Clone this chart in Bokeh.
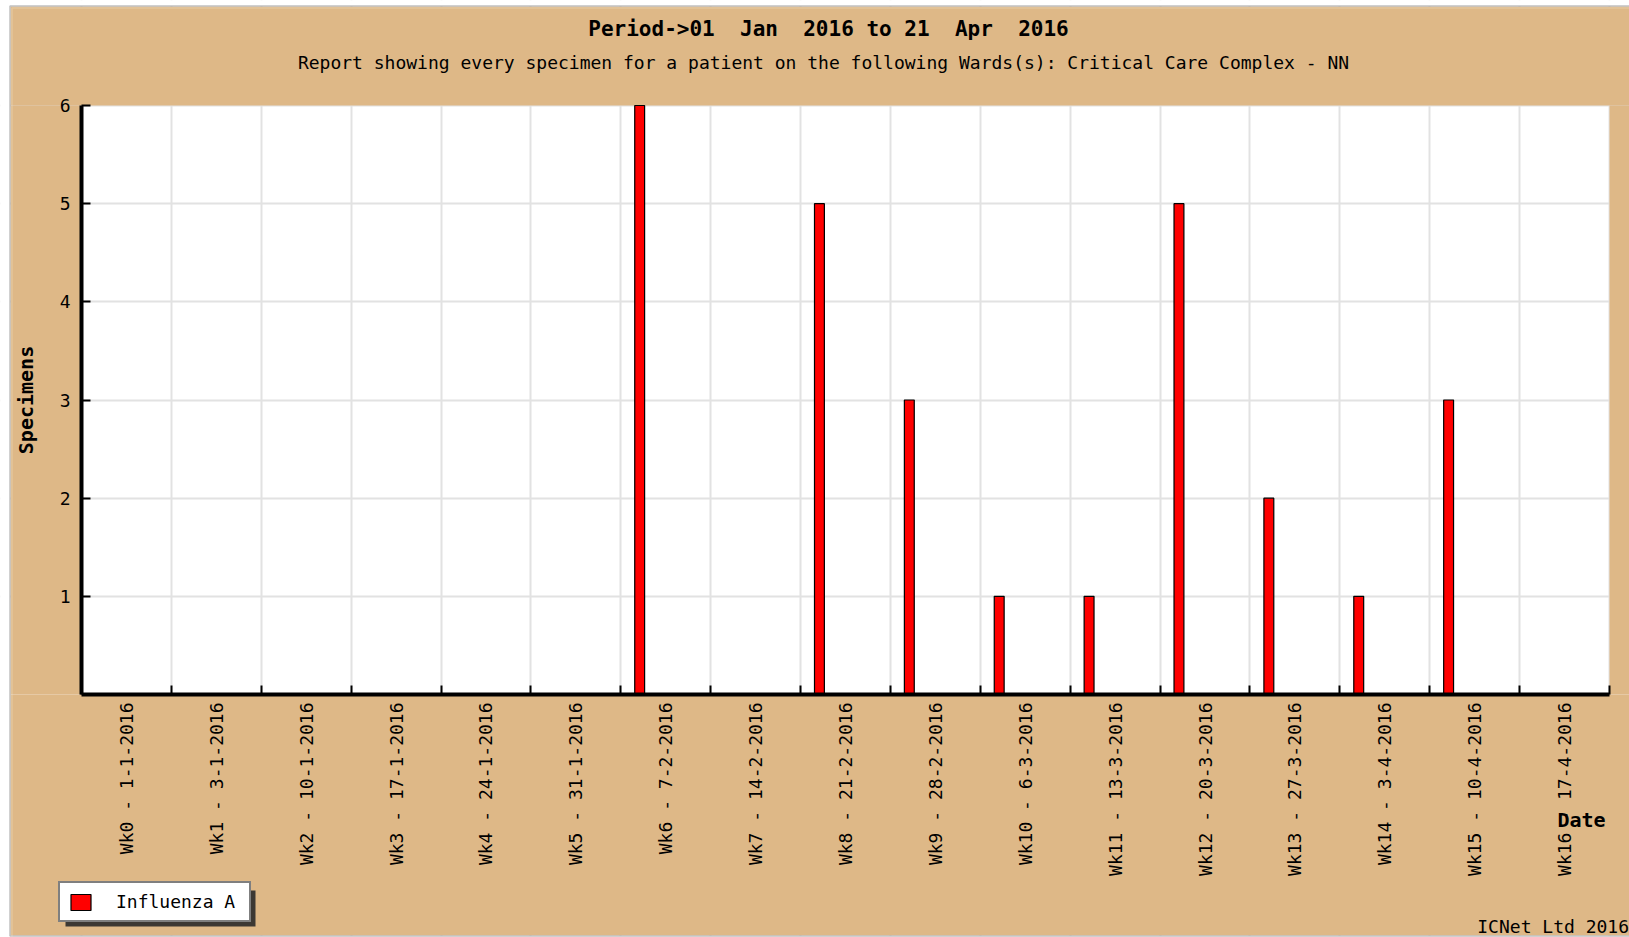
import math
from bokeh.plotting import figure
from bokeh.models import (ColumnDataSource, Range1d, FixedTicker, LinearAxis, Grid, Label,
                          Legend, LegendItem, BoxAnnotation)
from bokeh.embed import file_html
from bokeh.resources import INLINE

# ---- data -------------------------------------------------------------
week_labels = [
    "Wk0 - 1-1-2016", "Wk1 - 3-1-2016", "Wk2 - 10-1-2016", "Wk3 - 17-1-2016",
    "Wk4 - 24-1-2016", "Wk5 - 31-1-2016", "Wk6 - 7-2-2016", "Wk7 - 14-2-2016",
    "Wk8 - 21-2-2016", "Wk9 - 28-2-2016", "Wk10 - 6-3-2016", "Wk11 - 13-3-2016",
    "Wk12 - 20-3-2016", "Wk13 - 27-3-2016", "Wk14 - 3-4-2016", "Wk15 - 10-4-2016",
    "Wk16 - 17-4-2016",
]
influenza_a = [0, 0, 0, 0, 0, 0, 6, 0, 5, 3, 1, 1, 5, 2, 1, 3, 0]
y_ticks = [1, 2, 3, 4, 5, 6]
y_max = 6
series_name = "Influenza A"
title_text = "Period->01\u00a0 Jan\u00a0 2016 to 21\u00a0 Apr\u00a0 2016"
subtitle_text = ("Report showing every specimen for a patient on the following "
                 "Wards(s): Critical Care Complex - NN")
y_label = "Specimens"
x_label = "Date"
credit = "ICNet Ltd 2016"

# ---- layout / styles ----------------------------------------------------
W, H = 1629, 937
PLOT_L, PLOT_R, PLOT_T, PLOT_B = 81, 1609, 105, 694   # white plot area (px)
MONO = "DejaVu Sans Mono"
TAN = "#DEB887"
bar_offset = -0.29     # bar sits left of the category centre
bar_width = 0.11

n = len(week_labels)
idx = list(range(n))
x_lo, x_hi = -0.5, n - 0.5
px_x = (PLOT_R - PLOT_L) / (x_hi - x_lo)
px_y = (PLOT_B - PLOT_T) / y_max
x_range = Range1d(x_lo - PLOT_L / px_x, x_hi + (W - PLOT_R) / px_x)
y_range = Range1d(-(H - PLOT_B) / px_y, y_max + PLOT_T / px_y)

src = ColumnDataSource(dict(x=[i + bar_offset for i in idx], top=influenza_a,
                            label=week_labels))

p = figure(width=W, height=H, output_backend="svg", toolbar_location=None,
           x_range=x_range, y_range=y_range, x_axis_type=None, y_axis_type=None,
           min_border=0, min_border_left=0, min_border_right=0,
           min_border_top=0, min_border_bottom=0)
p.title.visible = False
p.border_fill_color = "white"
p.background_fill_color = "white"
p.outline_line_color = None

# grid lines
boundaries = [i - 0.5 for i in range(n + 1)]
for dim, ticks in ((0, boundaries), (1, y_ticks)):
    g = Grid(dimension=dim, ticker=FixedTicker(ticks=ticks),
             grid_line_color="#e2e2e2", grid_line_width=2)
    p.add_layout(g)

# tan surround of the white plot area (covers grid outside it)
S = "screen"
tan_boxes = [
    dict(left=10, right=W, top=H - 6, bottom=y_max,
         left_units=S, right_units=S, top_units=S, bottom_units="data"),
    dict(left=10, right=W, top=0, bottom=2,
         left_units=S, right_units=S, top_units="data", bottom_units=S),
    dict(left=10, right=x_lo, top=y_max, bottom=0,
         left_units=S, right_units="data", top_units="data", bottom_units="data"),
    dict(left=x_hi, right=W, top=y_max, bottom=0,
         left_units="data", right_units=S, top_units="data", bottom_units="data"),
]
for b in tan_boxes:
    p.add_layout(BoxAnnotation(level="underlay", fill_color=TAN, fill_alpha=1.0,
                               line_color=None, **b))
# white page strips outside the picture's frame
white_boxes = [
    dict(left=0, right=10, top=H, bottom=0),
    dict(left=0, right=W, top=H, bottom=H - 6),
    dict(left=0, right=W, top=2, bottom=0),
]
for b in white_boxes:
    p.add_layout(BoxAnnotation(level="underlay", fill_color="white", fill_alpha=1.0,
                               line_color=None, left_units=S, right_units=S,
                               top_units=S, bottom_units=S, **b))

# outer frame line of the picture (dark line with a light inner line)
p.add_layout(BoxAnnotation(left=9.5, right=W + 5, top=H - 5.5, bottom=1.5,
                           left_units=S, right_units=S, top_units=S, bottom_units=S,
                           fill_alpha=0, line_color="#333333", line_width=1.5))
p.add_layout(BoxAnnotation(left=11.5, right=W + 5, top=H - 7.5, bottom=-5,
                           left_units=S, right_units=S, top_units=S, bottom_units=S,
                           fill_alpha=0, line_color="#f2e4cc", line_width=1.5))

# bars
bars = p.vbar(x="x", top="top", width=bar_width, source=src, fill_color="#ff0000",
              line_color="black", line_width=1.2)

# x axis: labels at category centres, small inward ticks at boundaries
xax = LinearAxis(ticker=FixedTicker(ticks=idx, minor_ticks=boundaries),
                 fixed_location=0, bounds=(x_lo, x_hi))
xax.major_label_overrides = {i: lab for i, lab in zip(idx, week_labels)}
xax.major_label_orientation = math.pi / 2
xax.major_label_text_font = MONO
xax.major_label_text_font_size = "18px"
xax.major_label_text_color = "black"
xax.major_label_standoff = 8
xax.major_tick_in = 0
xax.major_tick_out = 0
xax.minor_tick_in = 9
xax.minor_tick_out = 0
xax.minor_tick_line_color = "black"
xax.minor_tick_line_width = 2
xax.axis_line_color = "black"
xax.axis_line_width = 4
p.add_layout(xax, "below")

yax = LinearAxis(ticker=FixedTicker(ticks=y_ticks), fixed_location=x_lo,
                 bounds=(0, y_max))
yax.major_label_text_font = MONO
yax.major_label_text_font_size = "18px"
yax.major_label_text_color = "black"
yax.major_label_standoff = 11
yax.major_tick_in = 9
yax.major_tick_out = 0
yax.major_tick_line_color = "black"
yax.major_tick_line_width = 2
yax.minor_tick_in = 0
yax.minor_tick_out = 0
yax.axis_line_color = "black"
yax.axis_line_width = 4
yax.axis_label = y_label
yax.axis_label_text_font = MONO
yax.axis_label_text_font_size = "20px"
yax.axis_label_text_font_style = "bold"
yax.axis_label_text_color = "black"
yax.axis_label_standoff = 19
p.add_layout(yax, "left")

# texts (screen px: x from left, y from bottom)
def txt(text, x, y, size, bold=False, align="center"):
    p.add_layout(Label(x=x, y=y, x_units=S, y_units=S, text=text, text_font=MONO,
                       text_font_size=size, text_font_style="bold" if bold else "normal",
                       text_align=align, text_baseline="middle", text_color="black"))

txt(title_text, 828, H - 28, "21px", bold=True)
txt(subtitle_text, 823, H - 62, "18px")
txt(x_label, 1581, H - 819, "20px", bold=True)
txt(credit, W - 0.5, H - 926, "18px", align="right")

# legend with drop shadow
p.add_layout(BoxAnnotation(left=65, right=255, top=H - 890, bottom=H - 926,
                           left_units=S, right_units=S, top_units=S, bottom_units=S,
                           fill_color="#2a2a2a", fill_alpha=0.9, line_color=None))
lg = Legend(items=[LegendItem(label=series_name, renderers=[bars])],
            location=(58, H - 922))
lg.padding = 8
lg.margin = 0
lg.glyph_width = 25
lg.glyph_height = 20
lg.label_standoff = 23
lg.label_width = 125
lg.label_text_font = MONO
lg.label_text_font_size = "18px"
lg.label_text_color = "black"
lg.border_line_color = "black"
lg.border_line_width = 2
lg.background_fill_color = "white"
lg.background_fill_alpha = 1.0
p.add_layout(lg)

open("out.html", "w").write(file_html(p, INLINE))
